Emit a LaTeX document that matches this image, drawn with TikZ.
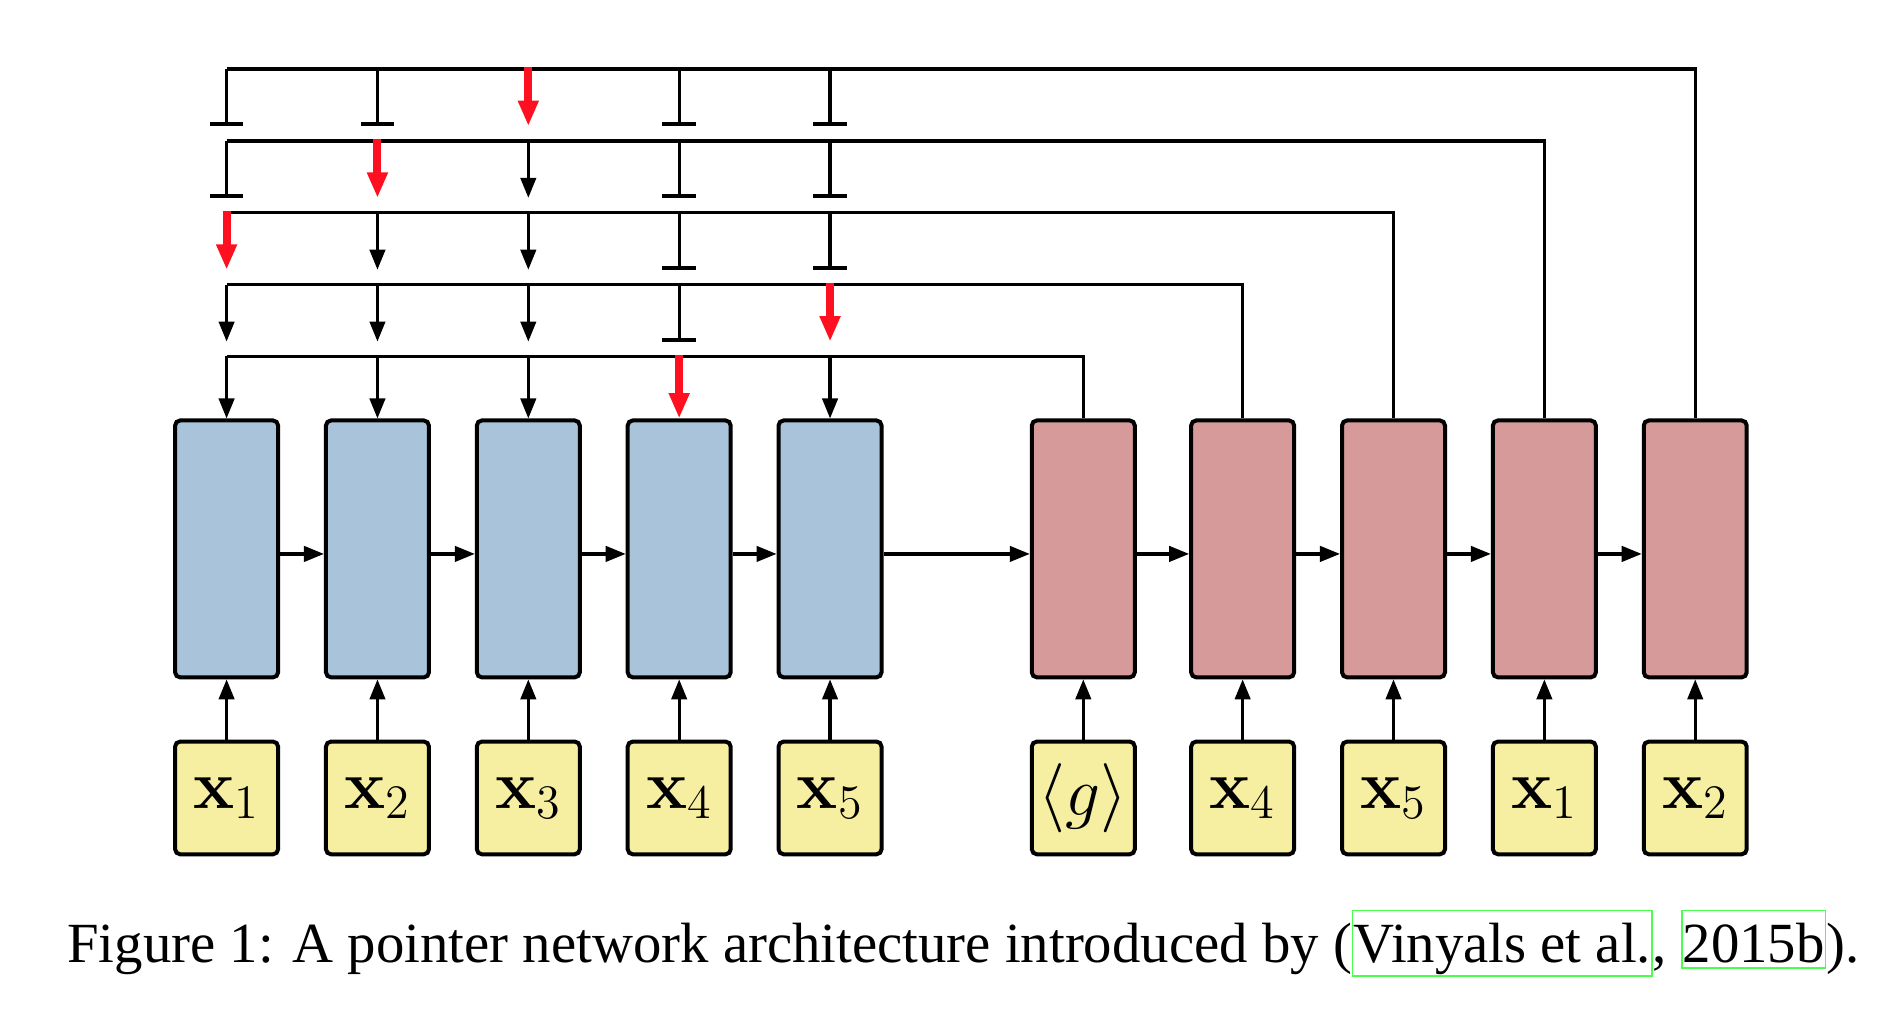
\documentclass[tikz,border=0pt]{standalone}
\usepackage[no-math]{fontspec}
\setmainfont{Liberation Serif}
\usetikzlibrary{arrows.meta}

\definecolor{encfill}{HTML}{A9C3DB}
\definecolor{decfill}{HTML}{D69A9A}
\definecolor{infill}{HTML}{F6EFA2}
\definecolor{ptrred}{HTML}{FF1020}
\definecolor{linkgreen}{rgb}{0.3,1,0.3}

% hyperref-style link border around a citation part
\newcommand\linkbox[1]{\begingroup\fboxsep=0pt\fboxrule=0.5pt%
  \textcolor{linkgreen}{\fbox{\textcolor{black}{\vrule height 15.4pt depth 1.3pt width 0pt#1}}}\endgroup}

\tikzset{
  cell/.style={draw, line width=1.2pt, rounded corners=1.5pt,
    minimum width=1.084cm, minimum height=2.704cm, inner sep=0pt},
  enc/.style={cell, fill=encfill},
  dec/.style={cell, fill=decfill},
  inbox/.style={draw, line width=1.2pt, rounded corners=1.5pt, fill=infill,
    minimum width=1.084cm, minimum height=1.186cm, inner sep=0pt, font=\huge},
  wire/.style={line width=0.95pt},
  flow/.style={wire, -{Triangle[length=6pt,width=4.6pt]}},
  blocked/.style={wire, -{Bar[width=10pt,line width=1.1pt]}},
  pointer/.style={line width=2.4pt, ptrred, -{Triangle[length=7.6pt,width=5.8pt]}},
}

\begin{document}
\begin{tikzpicture}[x=0.0127551cm, y=-0.0127551cm]
\useasboundingbox (0,0) rectangle (1568,838);

% encoder cells and their inputs
\foreach \i/\x/\lab in {1/187/1, 2/311.5/2, 3/436/3, 4/560.5/4, 5/685/5} {
  \node[enc] (e\i) at (\x,453) {};
  \node[inbox] (ie\i) at (\x,658.5) {$\mathbf{x}_{\lab}$};
  \draw[flow] (ie\i) -- (e\i);
}

% decoder cells and their inputs
\node[dec] (d1) at (894,453) {};
\node[dec] (d2) at (1025.5,453) {};
\node[dec] (d3) at (1150,453) {};
\node[dec] (d4) at (1274.5,453) {};
\node[dec] (d5) at (1399,453) {};
\node[inbox] (id1) at (894,658.5) {$\langle g\rangle$};
\node[inbox] (id2) at (1025.5,658.5) {$\mathbf{x}_4$};
\node[inbox] (id3) at (1150,658.5) {$\mathbf{x}_5$};
\node[inbox] (id4) at (1274.5,658.5) {$\mathbf{x}_1$};
\node[inbox] (id5) at (1399,658.5) {$\mathbf{x}_2$};
\foreach \i in {1,...,5} \draw[flow] (id\i) -- (d\i);

% recurrent connections
\foreach \a/\b in {1/2, 2/3, 3/4, 4/5} {
  \draw[flow] ([yshift=-1.5pt]e\a.east) -- ([yshift=-1.5pt]e\b.west);
  \draw[flow] ([yshift=-1.5pt]d\a.east) -- ([yshift=-1.5pt]d\b.west);
}
\draw[flow] ([yshift=-1.5pt]e5.east) -- ([yshift=-1.5pt]d1.west);

% attention rows: row positions and drop end points
\foreach \r/\y in {1/57, 2/116.3, 3/175.6, 4/234.9, 5/294.2} {
  \foreach \c/\x in {1/187, 2/311.5, 3/436, 4/560.5, 5/685} {
    \coordinate (r\r c\c) at (\x,\y);
    \coordinate (s\r c\c) at (\x,\y+47);
  }
}

% buses from each decoder step back over the encoder
\draw[wire] (r1c1) -| (d5.north);
\draw[wire] (r2c1) -| (d4.north);
\draw[wire] (r3c1) -| (d3.north);
\draw[wire] (r4c1) -| (d2.north);
\draw[wire] (r5c1) -| (d1.north);

% row 1
\draw[blocked] (r1c1) -- (s1c1);
\draw[blocked] (r1c2) -- (s1c2);
\draw[blocked] (r1c4) -- (s1c4);
\draw[blocked] (r1c5) -- (s1c5);
% row 2
\draw[blocked] (r2c1) -- (s2c1);
\draw[flow] (r2c3) -- (s2c3);
\draw[blocked] (r2c4) -- (s2c4);
\draw[blocked] (r2c5) -- (s2c5);
% row 3
\draw[flow] (r3c2) -- (s3c2);
\draw[flow] (r3c3) -- (s3c3);
\draw[blocked] (r3c4) -- (s3c4);
\draw[blocked] (r3c5) -- (s3c5);
% row 4
\draw[flow] (r4c1) -- (s4c1);
\draw[flow] (r4c2) -- (s4c2);
\draw[flow] (r4c3) -- (s4c3);
\draw[blocked] (r4c4) -- (s4c4);
% row 5 into the encoder cells
\draw[flow] (r5c1) -- (e1.north);
\draw[flow] (r5c2) -- (e2.north);
\draw[flow] (r5c3) -- (e3.north);
\draw[flow] (r5c5) -- (e5.north);

% selected pointers
\draw[pointer] ([yshift=0.5pt]r1c3) -- (s1c3);
\draw[pointer] ([yshift=0.5pt]r2c2) -- (s2c2);
\draw[pointer] ([yshift=0.5pt]r3c1) -- (s3c1);
\draw[pointer] ([yshift=0.5pt]r4c5) -- (s4c5);
\draw[pointer] ([yshift=0.5pt]r5c4) -- (e4.north);

% caption
\node[anchor=base west, inner sep=0pt, font=\fontsize{17}{20}\selectfont] (caption) at (55,794.5)
  {Figure 1: A pointer network architecture introduced by (\linkbox{Vinyals et al.}, \linkbox{2015b}).};
\end{tikzpicture}
\end{document}
